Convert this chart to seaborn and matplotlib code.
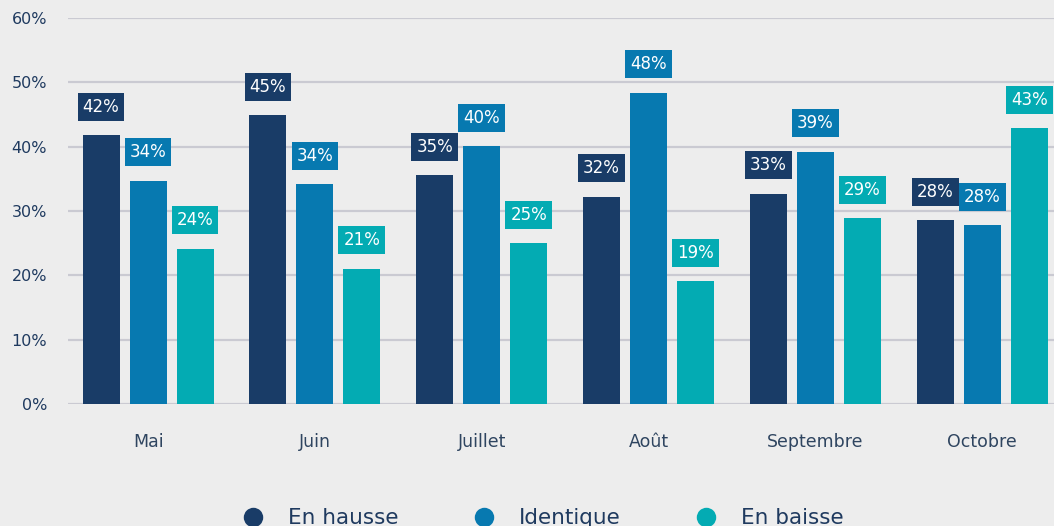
import numpy as np
import pandas as pd
import matplotlib
matplotlib.use("Agg")
import matplotlib.pyplot as plt
from matplotlib.lines import Line2D
import seaborn as sns

# values
months = ["Mai", "Juin", "Juillet", "Août", "Septembre", "Octobre"]
series = ["En hausse", "Identique", "En baisse"]
en_hausse = [41.8, 44.9, 35.6, 32.2, 32.7, 28.6]
identique = [34.7, 34.2, 40.1, 48.4, 39.2, 27.8]
en_baisse = [24.1, 21.0, 25.0, 19.1, 28.9, 42.9]
hausse_labels = [42, 45, 35, 32, 33, 28]
identique_labels = [34, 34, 40, 48, 39, 28]
baisse_labels = [24, 21, 25, 19, 29, 43]
y_ticks = [0, 10, 20, 30, 40, 50, 60]

colors = ["#193c67", "#0779b0", "#03abb3"]
bg = "#ededed"
text_col = "#1f3a5f"

df = pd.DataFrame({
    "mois": months * 3,
    "serie": [s for s in series for _ in months],
    "valeur": en_hausse + identique + en_baisse,
})
all_labels = [hausse_labels, identique_labels, baisse_labels]

sns.set_style("white")
plt.rcParams["font.family"] = ["DejaVu Sans"]

fig = plt.figure(figsize=(10.54, 5.26), dpi=100, facecolor=bg)
ax = fig.add_axes([68 / 1054, (526 - 404) / 526, 1 - 68 / 1054, 386 / 526])
ax.set_facecolor(bg)

sns.barplot(data=df, x="mois", y="valeur", hue="serie", order=months,
            hue_order=series, palette=colors, saturation=1, width=0.845,
            gap=0.21, legend=False, ax=ax, zorder=3, linewidth=0)

ax.set_ylim(0, 60)
ax.set_xlim(-0.48, 5.43)
ax.set_yticks(y_ticks)
ax.set_yticklabels([f"{t}%" for t in y_ticks])
ax.yaxis.grid(True, color="#cacad2", linewidth=1.6, zorder=0)
ax.set_axisbelow(True)
for s in ax.spines.values():
    s.set_visible(False)
ax.tick_params(axis="y", length=0, pad=15, labelsize=11.5, labelcolor=text_col)
ax.tick_params(axis="x", length=0, pad=21, labelsize=12.5, labelcolor="#2f4560")
ax.set_xlabel("")
ax.set_ylabel("")

# boxed value labels above bars
for container, labs, col in zip(ax.containers, all_labels, colors):
    for patch, lab in zip(container.patches, labs):
        xc = patch.get_x() + patch.get_width() / 2
        ax.annotate(f"{lab}%", (xc, patch.get_height()), xytext=(0, 20.5),
                    textcoords="offset points", ha="center", va="center",
                    color="white", fontsize=12, zorder=5,
                    bbox=dict(boxstyle="square,pad=0.3", fc=col, ec="none"))

handles = [Line2D([], [], marker="o", linestyle="none", markersize=14,
                  markerfacecolor=c, markeredgecolor="none") for c in colors]
fig.legend(handles, series, loc="center", bbox_to_anchor=(0.51, 0.015),
           ncol=3, frameon=False, fontsize=15.5, labelcolor=text_col,
           columnspacing=3.0, handletextpad=0.6)

fig.savefig("out.png", dpi=100, facecolor=bg)
